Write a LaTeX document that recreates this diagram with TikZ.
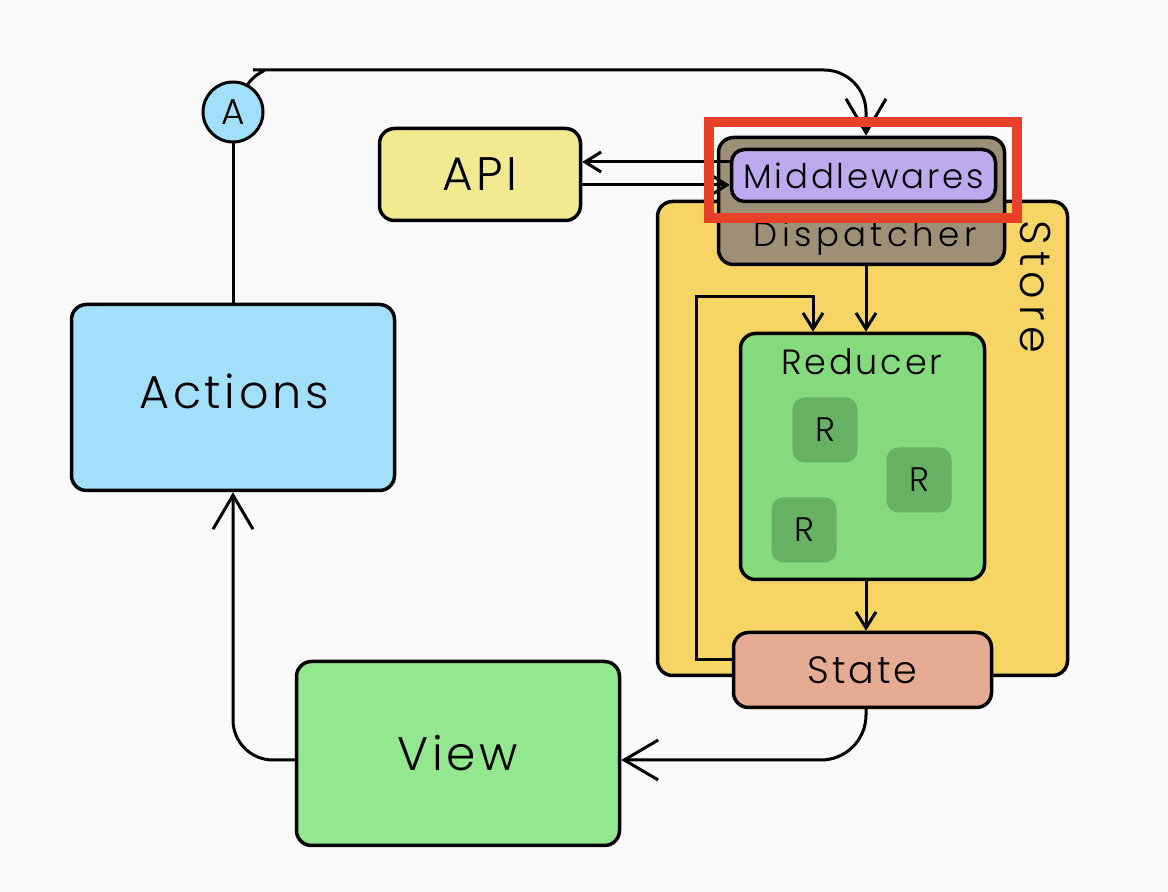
\documentclass[tikz,border=0pt]{standalone}
\usepackage{fontspec}
\setmainfont{Poppins Light}[LetterSpace=8]
\newfontfamily\widefont{Poppins Light}[LetterSpace=13]
\usetikzlibrary{arrows.meta}
\definecolor{bgc}{HTML}{FAFAFA}
\definecolor{actc}{HTML}{A2DFFA}
\definecolor{apic}{HTML}{F2EA91}
\definecolor{storec}{HTML}{F7D565}
\definecolor{dispc}{HTML}{9E8F77}
\definecolor{midc}{HTML}{BEA9EF}
\definecolor{redc}{HTML}{84DA7D}
\definecolor{rgreen}{HTML}{67B262}
\definecolor{statec}{HTML}{E6AC93}
\definecolor{viewc}{HTML}{93E88F}
\definecolor{hlc}{HTML}{E9402A}
\begin{document}
\begin{tikzpicture}[x=1pt,y=1pt,
  box/.style={draw=black, line width=3.5pt, rounded corners=15pt, inner sep=0pt, align=center},
  conn/.style={draw=black, line width=3pt},
  bigarrow/.style={conn, -{Straight Barb[length=34pt,width=40pt]}},
  smallarrow/.style={conn, -{Straight Barb[length=16pt,width=20pt]}},
  rbox/.style={fill=rgreen, rounded corners=12pt, minimum size=65pt, inner sep=0pt, font=\fontsize{34}{34}\selectfont}
]
\path[fill=bgc] (0,0) rectangle (1168,892);
\useasboundingbox (0,0) rectangle (1168,892);

% helper coordinates
\coordinate (ax) at (866,0);
\coordinate (lp) at (696,595);
\coordinate (lx) at (813,0);

% Store
\node[box, fill=storec, minimum width=410pt, minimum height=474pt] (store) at (862.5,453.5) {};
\node[font=\widefont\fontsize{43}{43}\selectfont, rotate=-90] (storelbl) at (1036,605) {Store};

% Dispatcher + Middlewares
\node[box, fill=dispc, minimum width=286pt, minimum height=127pt] (disp) at (861.5,691) {};
\node[font=\widefont\fontsize{34}{34}\selectfont, anchor=base] (displbl) at (865,645) {Dispatcher};
\node[box, fill=midc, minimum width=264pt, minimum height=52pt, rounded corners=13pt, font=\fontsize{34}{34}\selectfont] (mid) at (863.5,716.5) {Middlewares};

% Reducer
\node[box, fill=redc, minimum width=244pt, minimum height=246pt] (red) at (862.5,435.5) {};
\node[font=\fontsize{35}{35}\selectfont, anchor=base] (redlbl) at (862,517) {Reducer};
\node[rbox] (r1) at (825,462) {R};
\node[rbox] (r2) at (919,412) {R};
\node[rbox] (r3) at (804,362) {R};

% State
\node[box, fill=statec, minimum width=258pt, minimum height=75pt, font=\fontsize{38}{38}\selectfont] (state) at (862.5,222) {State};

% Actions, A, API, View
\node[box, fill=actc, minimum width=323pt, minimum height=186pt] (actions) at (233,494.5) {};
\node[font=\fontsize{46}{46}\selectfont] (actlbl) at (234,501) {Actions};
\node[draw=black, line width=3pt, circle, fill=actc, minimum size=60pt, inner sep=0pt, font=\fontsize{36}{36}\selectfont] (A) at (233,780) {A};
\node[box, fill=apic, minimum width=201pt, minimum height=92pt, font=\fontsize{47}{47}\selectfont] (api) at (480,717.5) {API};
\node[box, fill=viewc, minimum width=323pt, minimum height=184pt, font=\fontsize{47}{47}\selectfont] (view) at (458,138.5) {View};

% connectors
\draw[conn] (A.south) -- (actions.north);
\draw[bigarrow, rounded corners=42pt] (A.62) to[out=55,in=180] (295,822) -- (866,822) -- (disp.north -| ax);
\draw[smallarrow] ([yshift=13.5pt]mid.west) -- ([yshift=12.5pt]api.east);
\draw[smallarrow] ([yshift=-10.5pt]api.east) -- ([yshift=-9.5pt]mid.west);
\draw[smallarrow] (disp.south -| ax) -- (red.north -| ax);
\draw[smallarrow] ([yshift=10pt]state.west) -| (lp) -| (red.north -| lx);
\draw[smallarrow] (red.south -| ax) -- (state.north -| ax);
\draw[bigarrow, rounded corners=45pt] (state.south -| ax) |- ([yshift=-6.5pt]view.east);
\draw[bigarrow, rounded corners=40pt] ([yshift=-6.5pt]view.west) -| (actions.south);

% highlight frame
\node[draw=hlc, line width=10pt, minimum width=308pt, minimum height=96pt, inner sep=0pt] (hl) at (863,722) {};
\end{tikzpicture}
\end{document}
